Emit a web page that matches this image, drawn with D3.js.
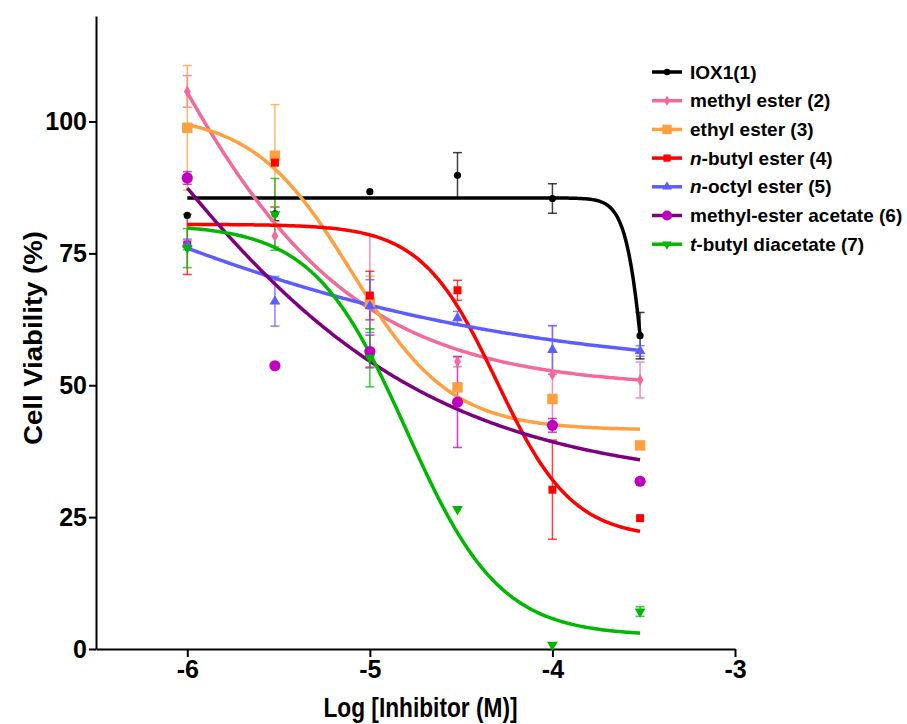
<!DOCTYPE html>
<html>
<head>
<meta charset="utf-8">
<script src="https://cdn.jsdelivr.net/npm/d3@7"></script>
<style>
  body { margin: 0; background: #fff; }
  svg { display: block; font-family: "Liberation Sans", Arial, sans-serif; font-weight: bold; }
</style>
</head>
<body>
<div class="svg-container"></div>
<script>
/* DATA */
const logDose = [-6, -5.52, -5, -4.52, -4, -3.52];

const names = ["IOX1(1)", "methyl ester (2)", "ethyl ester (3)", "n-butyl ester (4)",
  "n-octyl ester (5)", "methyl-ester acetate (6)", "t-butyl diacetate (7)"];

const iox1 = [82.2, 82.5, 86.7, 89.8, 85.4, 59.4];
const iox1Err = [0, 1.3, 0, 4.3, 2.8, 4.4];
const methyl = [105.7, 78.3, 66, 54.5, 52.0, 51.0];
const methylErr = [3, 2, 12.5, 1, 9.3, 3.4];
const ethyl = [98.8, 93.5, 65.7, 49.6, 47.4, 38.6];
const ethylErr = [11.8, 9.7, 5, 0, 0, 0];
const nButyl = [76.7, 92.2, 67.0, 68.0, 30.2, 24.8];
const nButylErr = [5.7, 0, 4.6, 1.9, 9.4, 0];
const nOctyl = [76.7, 65.9, 65, 62.7, 56.7, 56.5];
const nOctylErr = [1, 4.7, 5, 1.3, 4.6, 1];
const acetate = [89.3, 53.7, 56.4, 46.8, 42.4, 31.8];
const acetateErr = [1.2, 0, 3.1, 8.6, 1.3, 0];
const diacetate = [76, 82.4, 55.2, 26.5, 0.8, 7.1];
const diacetateErr = [3.7, 6.8, 5.5, 0, 0, 0.9];

// fitted dose-response curves: [top, bottom, logIC50, hill]
const fits = [
  [85.5, 0, -3.475, 8],
  [225, 49.5, -6.47, 0.7],
  [101.5, 41.5, -5.1, 1.6],
  [80.5, 21, -4.305, 2.1],
  [122.8, 52, -6.83, 0.35],
  [190, 31, -6.52, 0.5],
  [80.5, 2.5, -4.8, 1.7]
];

const lineColors = ["#000000", "#F2699B", "#FFA040", "#FF0000", "#5C5CFF", "#7F007F", "#00B800"];
const markColors = ["#000000", "#F2699B", "#FFA040", "#FF0000", "#5C5CFF", "#C000C0", "#00B800"];
const shapes = ["dot", "diamond", "bigsquare", "square", "triangle", "circle", "triangleDown"];

const values = [iox1, methyl, ethyl, nButyl, nOctyl, acetate, diacetate];
const errors = [iox1Err, methylErr, ethylErr, nButylErr, nOctylErr, acetateErr, diacetateErr];

/* CONSTANTS */
const width = 907, height = 724;
const m = { top: 16, left: 96, right: 172, bottom: 75 };

const svg = d3.select(".svg-container").append("svg")
  .attr("width", width).attr("height", height);

const xScale = d3.scaleLinear().domain([-6.5, -3]).range([m.left, width - m.right]);
const yScale = d3.scaleLinear().domain([0, 120]).range([height - m.bottom, m.top]);

// AXES
const yAxis = svg.append("g")
  .attr("transform", `translate(${m.left},0)`)
  .call(d3.axisLeft(yScale).tickValues([0, 25, 50, 75, 100]).tickSize(7).tickSizeOuter(0).tickPadding(2));
const xAxis = svg.append("g")
  .attr("transform", `translate(0,${height - m.bottom})`)
  .call(d3.axisBottom(xScale).tickValues([-6, -5, -4, -3]).tickFormat(d => String(d))
    .tickSize(8).tickSizeOuter(0).tickPadding(3));

[xAxis, yAxis].forEach(g => {
  g.select(".domain").attr("stroke-width", 2);
  g.selectAll(".tick line").attr("stroke-width", 2);
  g.selectAll(".tick text").attr("font-size", 25).attr("font-weight", "bold")
    .attr("font-family", "Liberation Sans, Arial, sans-serif").attr("fill", "#000");
});

svg.append("text")
  .attr("x", (m.left + width - m.right) / 2 + 5)
  .attr("y", 717)
  .attr("text-anchor", "middle")
  .attr("font-size", 28)
  .attr("textLength", 194)
  .attr("lengthAdjust", "spacingAndGlyphs")
  .text("Log [Inhibitor (M)]");

svg.append("text")
  .attr("transform", "translate(42,338) rotate(-90)")
  .attr("text-anchor", "middle")
  .attr("font-size", 26)
  .attr("textLength", 214)
  .attr("lengthAdjust", "spacingAndGlyphs")
  .text("Cell Viability (%)");

// MARKERS
function drawMarker(g, shape, color, cx, cy, scale = 1) {
  if (shape === "dot") {
    g.append("circle").attr("cx", cx).attr("cy", cy).attr("r", 3.6 * scale).attr("fill", color);
  } else if (shape === "circle") {
    g.append("circle").attr("cx", cx).attr("cy", cy).attr("r", 5.6 * scale).attr("fill", color);
  } else {
    const sym = {
      diamond: [d3.symbolDiamond, 40],
      bigsquare: [d3.symbolSquare, 110],
      square: [d3.symbolSquare, 64],
      triangle: [d3.symbolTriangle, 50],
      triangleDown: [d3.symbolTriangle, 50]
    }[shape];
    g.append("path")
      .attr("d", d3.symbol(sym[0], sym[1] * scale * scale)())
      .attr("transform", `translate(${cx},${cy})` + (shape === "triangleDown" ? " rotate(180)" : ""))
      .attr("fill", color);
  }
}

// CURVES
const curveXs = d3.range(0, 201).map(i => -6 + i * (2.48 / 200));
const line = d3.line().x(d => xScale(d[0])).y(d => yScale(d[1]));

const plot = svg.append("g");

values.forEach((vals, s) => {
  const g = plot.append("g");
  // error bars
  vals.forEach((v, i) => {
    const e = errors[s][i];
    if (!e) return;
    const cx = xScale(logDose[i]);
    g.append("line").attr("x1", cx).attr("x2", cx)
      .attr("y1", yScale(v - e)).attr("y2", yScale(v + e))
      .attr("stroke", markColors[s]).attr("stroke-width", 1.5).attr("opacity", 0.75);
    [v - e, v + e].forEach(t => {
      g.append("line").attr("x1", cx - 4.5).attr("x2", cx + 4.5)
        .attr("y1", yScale(t)).attr("y2", yScale(t))
        .attr("stroke", markColors[s]).attr("stroke-width", 1.5).attr("opacity", 0.75);
    });
  });
});

fits.forEach((f, s) => {
  const [top, bottom, c, h] = f;
  const pts = curveXs.map(x => [x, bottom + (top - bottom) / (1 + Math.pow(10, (x - c) * h))]);
  plot.append("path").datum(pts).attr("d", line)
    .attr("fill", "none").attr("stroke", lineColors[s]).attr("stroke-width", 3.5);
});

values.forEach((vals, s) => {
  const g = plot.append("g");
  vals.forEach((v, i) => drawMarker(g, shapes[s], markColors[s], xScale(logDose[i]), yScale(v)));
});

// LEGEND
const legend = svg.append("g");
names.forEach((name, i) => {
  const ly = 72 + i * 28.7;
  legend.append("line").attr("x1", 652).attr("x2", 682).attr("y1", ly).attr("y2", ly)
    .attr("stroke", lineColors[i]).attr("stroke-width", 3.5);
  drawMarker(legend, shapes[i], markColors[i], 667, ly, 0.9);
  const t = legend.append("text").attr("x", 690).attr("y", ly + 6.5).attr("font-size", 19);
  const m2 = name.match(/^([nt])-(.*)$/);
  if (m2) {
    t.append("tspan").attr("font-style", "italic").text(m2[1]);
    t.append("tspan").text("-" + m2[2]);
  } else {
    t.text(name);
  }
});
</script>
</body>
</html>
